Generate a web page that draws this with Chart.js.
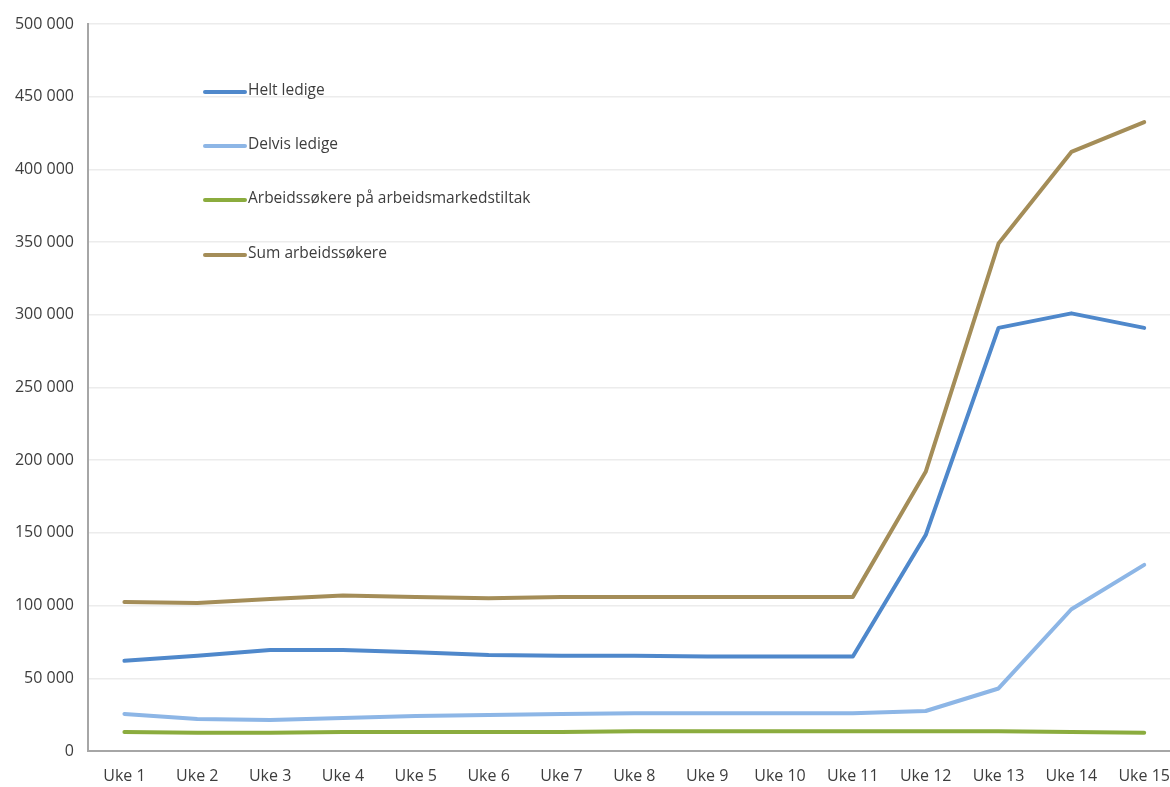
<!DOCTYPE html>
<html>
<head>
<meta charset="utf-8">
<script src="https://cdn.jsdelivr.net/npm/chart.js@4/dist/chart.umd.min.js"></script>
<style>
html,body{margin:0;padding:0;background:#fff;overflow:hidden;}
#wrap{width:1186px;height:787px;position:relative;}
</style>
</head>
<body>
<div id="wrap"><canvas id="c" width="1186" height="787"></canvas></div>
<script>
const categories = ["Uke 1","Uke 2","Uke 3","Uke 4","Uke 5","Uke 6","Uke 7","Uke 8","Uke 9","Uke 10","Uke 11","Uke 12","Uke 13","Uke 14","Uke 15"];
const heltLedige = [62000,65500,69500,69500,68000,66000,65500,65500,65000,65000,65000,148500,291000,301000,291000];
const delvisLedige = [25500,22000,21300,22700,24000,24800,25500,26000,26000,26000,26000,27500,43000,97500,128000];
const tiltak = [13000,12500,12500,13000,13000,13000,13000,13500,13500,13500,13500,13500,13500,13000,12500];
const sumArbeidssokere = [102500,101800,104500,107000,106000,105000,106000,106000,106000,106000,106000,192000,349000,412000,432500];
const yTicks = [0,50000,100000,150000,200000,250000,300000,350000,400000,450000,500000];

const FONT = "'Open Sans', 'Liberation Sans', sans-serif";
const TXT = '#3d3d3d';
const mk = (label, data, color) => ({label, data, borderColor: color, backgroundColor: color, borderWidth: 4, pointRadius: 0, tension: 0, borderJoinStyle: 'round', borderCapStyle: 'round', fill: false});

const legendPlugin = {
  id: 'inLegend',
  afterDatasetsDraw(chart) {
    const ctx = chart.ctx;
    const rows = [92, 146, 200, 255];
    ctx.save();
    chart.data.datasets.forEach((ds, i) => {
      const y = rows[i];
      ctx.strokeStyle = ds.borderColor;
      ctx.lineWidth = 4;
      ctx.lineCap = 'round';
      ctx.beginPath(); ctx.moveTo(205, y); ctx.lineTo(245, y); ctx.stroke();
      ctx.fillStyle = TXT;
      ctx.font = "15.5px " + FONT;
      ctx.textBaseline = 'middle';
      ctx.textAlign = 'left';
      ctx.fillText(ds.label, 248, y - 1);
    });
    ctx.restore();
  }
};

new Chart(document.getElementById('c'), {
  type: 'line',
  data: {
    labels: categories,
    datasets: [
      mk('Helt ledige', heltLedige, '#4f88cb'),
      mk('Delvis ledige', delvisLedige, '#8db6e6'),
      mk('Arbeidssøkere på arbeidsmarkedstiltak', tiltak, '#8bac3e'),
      mk('Sum arbeidssøkere', sumArbeidssokere, '#a48d58')
    ]
  },
  options: {
    responsive: false,
    animation: false,
    layout: {padding: {top: 24, right: 1, left: 0, bottom: 0}},
    plugins: {legend: {display: false}, tooltip: {enabled: false}},
    scales: {
      x: {
        offset: true,
        grid: {display: false, drawTicks: false},
        border: {color: '#a6a6a6', width: 2},
        ticks: {color: TXT, font: {family: FONT, size: 16}, padding: 16, maxRotation: 0, autoSkip: false},
        afterFit(s) { s.height = 36; }
      },
      y: {
        min: 0, max: 500000,
        afterBuildTicks(s) { s.ticks = yTicks.map(v => ({value: v})); },
        grid: {color: '#ececec', lineWidth: 1.5, drawTicks: false},
        border: {color: '#a6a6a6', width: 2},
        ticks: {color: TXT, font: {family: FONT, size: 16}, padding: 14,
          callback: v => String(v).replace(/\B(?=(\d{3})+(?!\d))/g, ' ')},
        afterFit(s) { s.width = 88; }
      }
    }
  },
  plugins: [legendPlugin]
});
</script>
</body>
</html>
